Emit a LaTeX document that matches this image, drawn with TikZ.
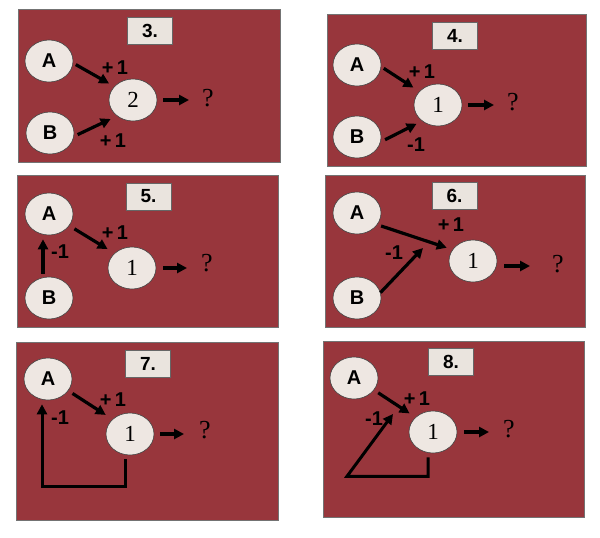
\documentclass[tikz,border=0pt]{standalone}
\usepackage{fontspec}
\setmainfont{Liberation Serif}
\newfontfamily\lsans{Liberation Sans}
\usetikzlibrary{arrows.meta,shapes.geometric}
\definecolor{panelred}{RGB}{152,54,60}
\definecolor{nodefill}{RGB}{238,231,226}
\definecolor{boxfill}{RGB}{234,228,222}
\begin{document}
\begin{tikzpicture}[x=1pt,y=-1pt,
 panel/.style={fill=panelred, draw=black!55, line width=0.8pt},
 tag/.style={rectangle, fill=boxfill, draw=black!60, line width=0.6pt, minimum width=45pt, minimum height=27pt, inner sep=0pt, font=\lsans\bfseries\fontsize{19}{19}\selectfont},
 cell/.style={ellipse, fill=nodefill, draw=black!75, line width=0.6pt, minimum width=48pt, minimum height=42pt, inner sep=0pt},
 letter/.style={cell, font=\lsans\bfseries\fontsize{20}{20}\selectfont},
 num/.style={cell, font=\fontsize{23}{23}\selectfont},
 qmark/.style={font=\fontsize{26}{26}\selectfont, inner sep=1pt},
 wt/.style={font=\lsans\bfseries\fontsize{20}{20}\selectfont, inner sep=0pt},
 arr/.style={line width=3.2pt, -{Triangle[length=10pt,width=10pt]}},
]
\fill[white] (0,0) rectangle (600,538);
\useasboundingbox (0,0) rectangle (600,538);

% ---------- panel 3
\draw[panel] (18,9) rectangle (280,162);
\node[tag] (t3) at (150,30.5) {3.};
\node[letter] (a3) at (49,61) {A};
\node[letter] (b3) at (50,133) {B};
\node[num] (n3) at (133,100) {2};
\node[qmark] (q3) at (208,98) {?};
\node[wt] (w3a) at (115,68) {+\,1};
\node[wt] (w3b) at (113,141) {+\,1};
\draw[arr, shorten <=3pt, shorten >=6pt] (a3.-5) -- (n3.144);
\draw[arr, shorten <=4pt, shorten >=7pt] (b3.-8) -- (n3.225);
\draw[arr, shorten <=6pt, shorten >=12pt] (n3.east) -- (n3.east -| q3.west);

% ---------- panel 4
\draw[panel] (327,14) rectangle (586,166);
\node[tag] (t4) at (455,35.5) {4.};
\node[letter] (a4) at (357,65) {A};
\node[letter] (b4) at (357,137) {B};
\node[num] (n4) at (438,105) {1};
\node[qmark] (q4) at (513,102) {?};
\node[wt] (w4a) at (422,72) {+\,1};
\node[wt] (w4b) at (416,145) {-1};
\draw[arr, shorten <=3pt, shorten >=7pt] (a4.-4) -- (n4.144);
\draw[arr, shorten <=5pt, shorten >=6pt] (b4.-12) -- (n4.225);
\draw[arr, shorten <=6pt, shorten >=12pt] (n4.east) -- (n4.east -| q4.west);

% ---------- panel 5
\draw[panel] (17,175) rectangle (278,327);
\node[tag] (t5) at (148.5,196.5) {5.};
\node[letter] (a5) at (49,214) {A};
\node[letter] (b5) at (49,298) {B};
\node[num] (n5) at (132,268) {1};
\node[qmark] (q5) at (207,263) {?};
\node[wt] (w5a) at (115,233) {+\,1};
\node[wt] (w5b) at (60,252) {-1};
\draw[arr, shorten <=6pt, shorten >=8pt] (a5.-30) -- (n5.140);
\draw[arr, shorten <=3pt, shorten >=4pt] ([xshift=-6pt]b5.north) -- ([xshift=-6pt]a5.south);
\draw[arr, shorten <=7pt, shorten >=13pt] (n5.east) -- (n5.east -| q5.west);

% ---------- panel 6
\draw[panel] (325,175) rectangle (585,327);
\node[tag] (t6) at (454.5,196) {6.};
\node[letter] (a6) at (357,213) {A};
\node[letter] (b6) at (357,298) {B};
\node[num] (n6) at (473,261) {1};
\node[qmark] (q6) at (558,264) {?};
\node[wt] (w6a) at (451,225) {+\,1};
\node[wt] (w6b) at (394,253) {-1};
\coordinate (c6) at (423,248);
\draw[arr, shorten <=4pt, shorten >=6pt] (a6.-30) -- (n6.151);
\draw[arr] (b6.13) -- (c6);
\draw[arr, shorten <=7pt, shorten >=21pt] ([yshift=-5pt]n6.east) -- ([yshift=-5pt]n6.east -| q6.west);

% ---------- panel 7
\draw[panel] (16,342) rectangle (278,520);
\node[tag] (t7) at (148,363.5) {7.};
\node[letter] (a7) at (48,379) {A};
\node[num] (n7) at (130,434) {1};
\node[qmark] (q7) at (205,430) {?};
\node[wt] (w7a) at (113,400) {+\,1};
\node[wt] (w7b) at (60,418) {-1};
\draw[arr, shorten <=5pt, shorten >=8pt] (a7.-30) -- (n7.140);
\draw[arr, line width=3pt, shorten <=4pt, shorten >=4pt] ([xshift=-5pt]n7.south) -- ++(0,31) -| ([xshift=-6pt]a7.south);
\draw[arr, shorten <=6pt, shorten >=14pt] (n7.east) -- (n7.east -| q7.west);

% ---------- panel 8
\draw[panel] (323,341) rectangle (584,517);
\node[tag] (t8) at (451,361.5) {8.};
\node[letter] (a8) at (354,378) {A};
\node[num] (n8) at (433,432) {1};
\node[qmark] (q8) at (509,429) {?};
\node[wt] (w8a) at (417,399) {+\,1};
\node[wt] (w8b) at (374,419) {-1};
\coordinate (c8) at (393,414);
\draw[arr, shorten <=5pt, shorten >=7pt] (a8.-31) -- (n8.140);
\draw[arr, line width=3pt, shorten <=4pt] ([xshift=-5pt]n8.south) -- ++(0,23) -- ++(-81,0) -- (c8);
\draw[arr, shorten <=7pt, shorten >=13pt] (n8.east) -- (n8.east -| q8.west);
\end{tikzpicture}
\end{document}
